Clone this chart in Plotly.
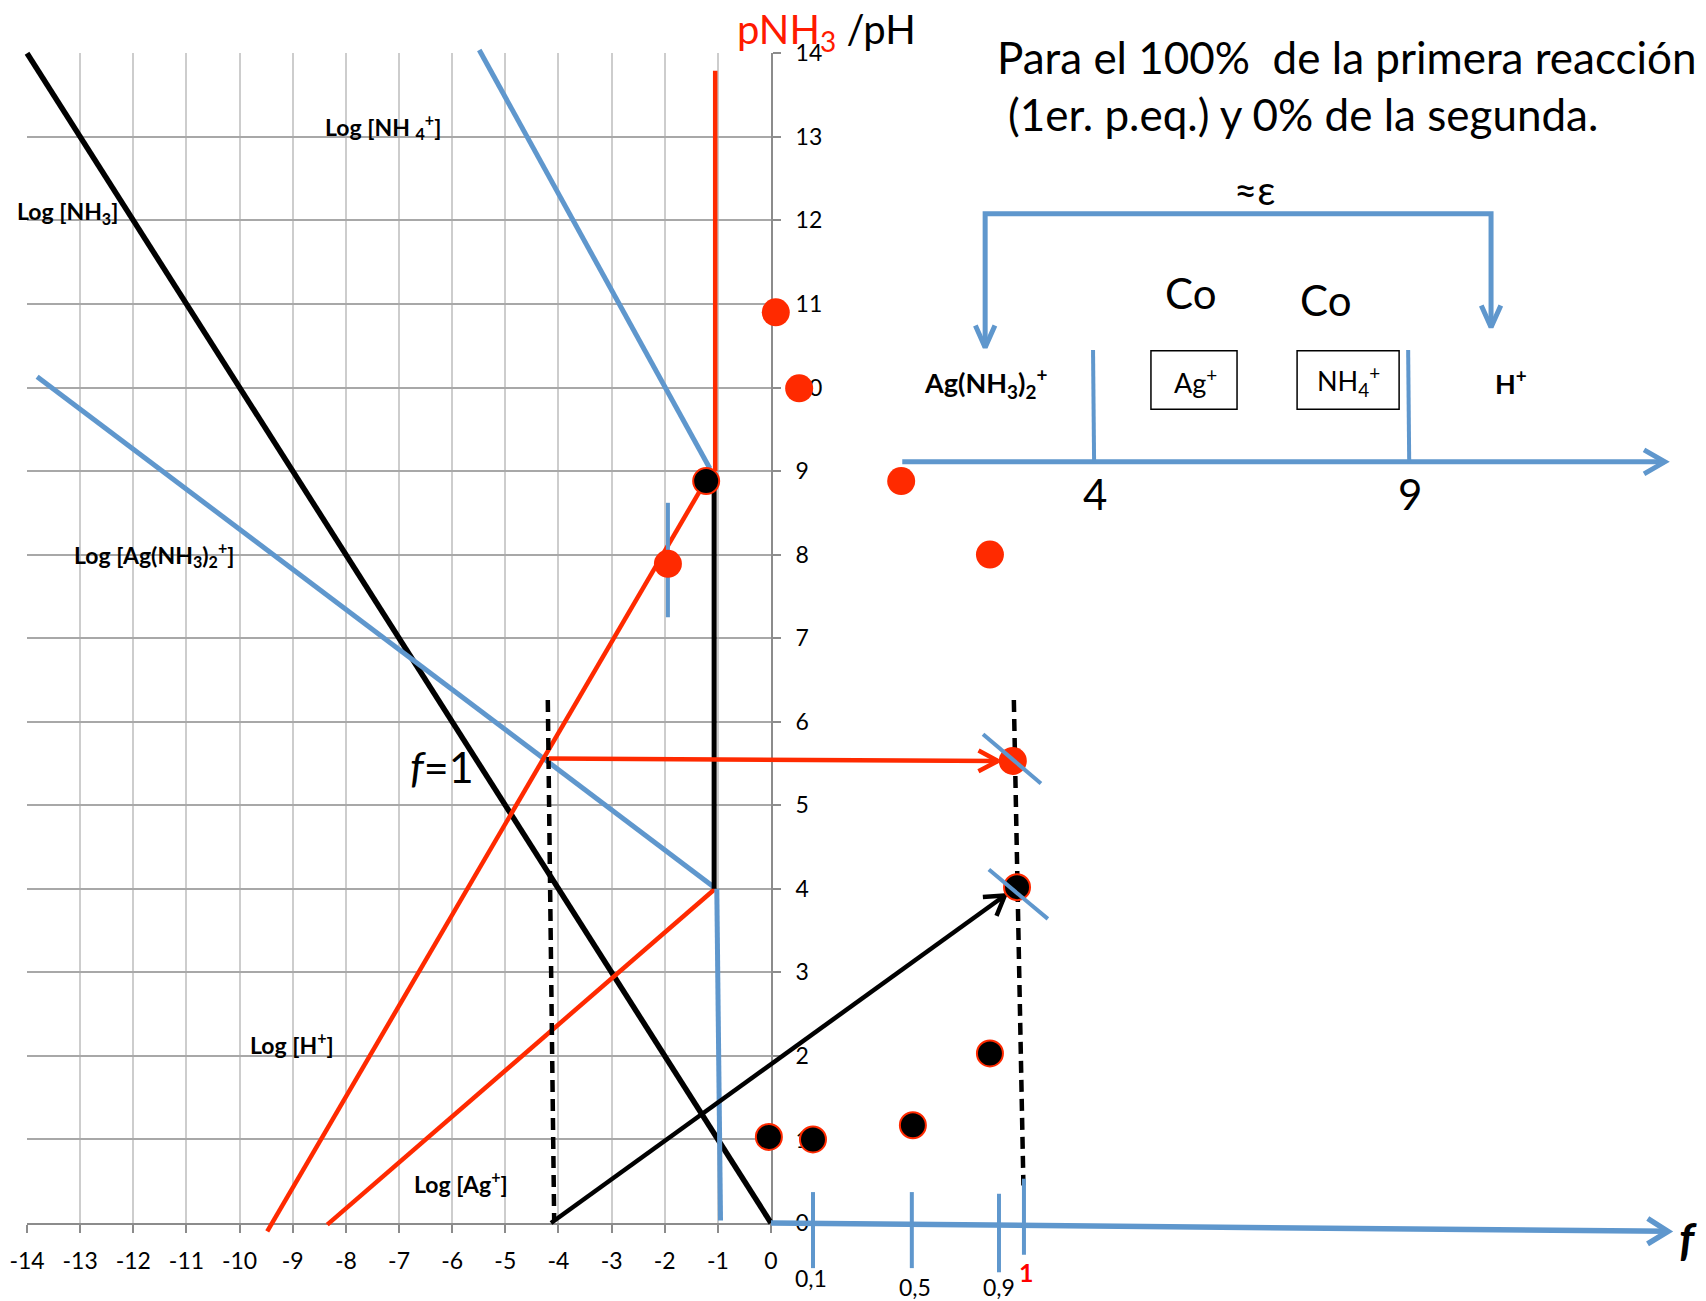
import math
import plotly.graph_objects as go

# ---------------- data ----------------
x_tick_vals = list(range(-14, 1))
x_tick_text = ['-14', '-13', '-12', '-11', '-10', '-9', '-8', '-7', '-6', '-5', '-4', '-3', '-2', '-1', '0']
y_tick_vals = list(range(0, 15))
y_tick_text = [str(v) for v in range(0, 15)]

# log-diagram lines (x: pNH3 scale, y: pH)
log_nh3_x = [-14.0, 0.0]
log_nh3_y = [14.0, 0.0]
log_nh4_x = [-5.49, -1.15]
log_nh4_y = [14.04, 9.03]
log_agnh3_x = [-13.81, -1.07]
log_agnh3_y = [10.13, 4.02]
log_h_x = [-9.48, -1.12]
log_h_y = [-0.10, 9.00]
pnh3_vert_x = [-1.05, -1.05]
pnh3_vert_y = [9.00, 13.79]
log_ag_x = [-8.35, -1.05]
log_ag_y = [-0.02, 4.00]
blue_vert_x = [-1.02, -0.95]
blue_vert_y = [4.00, 0.03]
black_vert_x = [-1.07, -1.07]
black_vert_y = [8.88, 4.00]
blue_mark_x = [-1.94, -1.94]
blue_mark_y = [8.62, 7.25]

dash1_x = [-4.20, -4.08]
dash1_y = [6.26, 0.02]
dash2_x = [4.57, 4.75]
dash2_y = [6.26, 0.45]

red_arrow_x = [-4.18, 4.27]
red_arrow_y = [5.56, 5.53]
black_arrow_x = [-4.14, 4.40]
black_arrow_y = [0.00, 3.92]

slash1_x = [3.99, 5.08]
slash1_y = [5.85, 5.26]
slash2_x = [4.10, 5.21]
slash2_y = [4.23, 3.64]

pnh3_dots_x = [-1.94, 0.09, 0.53, 2.45, 4.12, 4.55]
pnh3_dots_y = [7.89, 10.90, 9.99, 8.88, 8.00, 5.53]
ph_dots_x = [-1.22, -0.04, 0.79, 2.67, 4.12, 4.63]
ph_dots_y = [8.88, 1.03, 1.00, 1.17, 2.03, 4.02]

# f axis
f_axis_x = [0.0, 16.88]
f_axis_y = [0.0, -0.10]
f_tick_x = [0.79, 2.65, 4.29, 4.76]
f_tick_top = [0.37, 0.37, 0.35, 0.53]
f_tick_bot = [-0.54, -0.54, -0.59, -0.38]
f_labels = ['0,1', '0,5', '0,9']
f_label_x = [0.75, 2.71, 4.29]
f_label_y = [-0.66, -0.76, -0.76]

# predominance scale
pred_axis_x = [2.47, 16.82]
pred_axis_y = [9.11, 9.11]
pred_bound_x = [6.06, 11.99]
pred_bound_top = 10.45
pred_bound_labels = ['4', '9']
bracket_x = [4.03, 4.03, 13.55, 13.55]
bracket_y = [10.48, 12.08, 12.08, 10.72]

# ---------------- geometry of the picture ----------------
W, H = 1706, 1301
X0, XS = 771.0, 53.14   # pixel of x=0 and pixels per unit
Y0, YS = 1223.0, 83.55  # pixel of y=0 and pixels per unit

BLUE = '#5f97cd'
RED = '#ff2a00'
FONT = 'Lato'


def head(xs, ys, length=22, ang=30):
    x0, y0, x1, y1 = xs[-2], ys[-2], xs[-1], ys[-1]
    dxp = (x1 - x0) * XS
    dyp = -(y1 - y0) * YS
    L = math.hypot(dxp, dyp)
    bx, by = -dxp / L, -dyp / L
    hx, hy = [], []
    for s in (1, -1):
        a = math.radians(ang * s)
        rx = bx * math.cos(a) - by * math.sin(a)
        ry = bx * math.sin(a) + by * math.cos(a)
        hx.append(x1 + rx * length / XS)
        hy.append(y1 - ry * length / YS)
    return [hx[0], x1, hx[1]], [hy[0], y1, hy[1]]


fig = go.Figure()

# invisible anchor trace so that the gridded main subplot is drawn
fig.add_trace(go.Scatter(x=[x_tick_vals[0]], y=[y_tick_vals[0]], mode='markers', xaxis='x', yaxis='y',
                         marker=dict(opacity=0), hoverinfo='skip', showlegend=False))


def line(xs, ys, color, width, dash=None):
    fig.add_trace(go.Scatter(x=xs, y=ys, mode='lines', xaxis='x2', yaxis='y2',
                             line=dict(color=color, width=width, dash=dash),
                             hoverinfo='skip', showlegend=False))


# log diagram lines
line(log_nh3_x, log_nh3_y, 'black', 5.5)
line(log_nh4_x, log_nh4_y, BLUE, 5)
line(log_agnh3_x, log_agnh3_y, BLUE, 5)
line(log_h_x, log_h_y, RED, 4.5)
line(pnh3_vert_x, pnh3_vert_y, RED, 4.5)
line(log_ag_x, log_ag_y, RED, 4.5)
line(blue_vert_x, blue_vert_y, BLUE, 5)
line(black_vert_x, black_vert_y, 'black', 5)
line(blue_mark_x, blue_mark_y, BLUE, 4)
line(dash1_x, dash1_y, 'black', 4.5, '12px,7px')
line(dash2_x, dash2_y, 'black', 4.5, '12px,7px')

# arrows
line(red_arrow_x, red_arrow_y, RED, 4.5)
hx, hy = head(red_arrow_x, red_arrow_y, 22, 28)
line(hx, hy, RED, 4.5)
line(black_arrow_x, black_arrow_y, 'black', 4.5)
hx, hy = head(black_arrow_x, black_arrow_y, 22, 32)
line(hx, hy, 'black', 4.5)

# f axis
line(f_axis_x, f_axis_y, BLUE, 5.5)
hx, hy = head(f_axis_x, f_axis_y, 24, 32)
line(hx, hy, BLUE, 5.5)
for i in range(len(f_tick_x)):
    line([f_tick_x[i], f_tick_x[i]], [f_tick_top[i], f_tick_bot[i]], BLUE, 4)

# dots
fig.add_trace(go.Scatter(x=pnh3_dots_x, y=pnh3_dots_y, mode='markers', xaxis='x2', yaxis='y2',
                         marker=dict(size=28, color=RED, line=dict(width=0)),
                         hoverinfo='skip', showlegend=False))
fig.add_trace(go.Scatter(x=ph_dots_x, y=ph_dots_y, mode='markers', xaxis='x2', yaxis='y2',
                         marker=dict(size=26, color='black', line=dict(width=2, color=RED)),
                         hoverinfo='skip', showlegend=False))
line(slash1_x, slash1_y, BLUE, 4)
line(slash2_x, slash2_y, BLUE, 4)

# predominance scale
line(pred_axis_x, pred_axis_y, BLUE, 5)
hx, hy = head(pred_axis_x, pred_axis_y, 24, 30)
line(hx, hy, BLUE, 5)
for bx in pred_bound_x:
    line([bx, bx + 0.02], [pred_bound_top, pred_axis_y[0]], BLUE, 4)
line(bracket_x, bracket_y, BLUE, 5)
hx, hy = head(bracket_x[:2][::-1], bracket_y[:2][::-1], 24, 24)
line(hx, hy, BLUE, 5)
hx, hy = head(bracket_x[2:], bracket_y[2:], 24, 24)
line(hx, hy, BLUE, 5)

annotations = []


def text(x, y, s, size, color='black', bold=False, anchor='left', family=FONT, italic=False):
    if bold:
        s = '<b>' + s + '</b>'
    if italic:
        s = '<i>' + s + '</i>'
    annotations.append(dict(x=x, y=y, xref='x2', yref='y2', text=s, showarrow=False,
                            xanchor=anchor, yanchor='middle',
                            font=dict(family=family, size=size, color=color)))


text(-8.43, 13.12, 'Log [NH <sub>4</sub><sup>+</sup>]', 23, bold=True)
text(-14.23, 12.10, 'Log [NH<sub>3</sub>]', 23, bold=True)
text(-13.15, 8.00, 'Log [Ag(NH<sub>3</sub>)<sub>2</sub><sup>+</sup>]', 23, bold=True)
text(-9.84, 2.15, 'Log [H<sup>+</sup>]', 23, bold=True)
text(-6.76, 0.49, 'Log [Ag<sup>+</sup>]', 23, bold=True)
text(-6.83, 5.46, '<i>f</i>=1', 43)
text(-0.68, 14.26, '<span style="color:#ff1a00">pNH<sub>3</sub></span> /pH', 40)

text(4.22, 13.96, 'Para el 100%&nbsp; de la primera reacción', 44)
text(4.43, 13.27, '(1er. p.eq.) y 0% de la segunda.', 44)
text(9.09, 12.36, '≈ε', 40, anchor='center')
text(7.90, 11.13, 'Co', 42, anchor='center')
text(10.43, 11.05, 'Co', 42, anchor='center')
text(2.84, 10.05, 'Ag(NH<sub>3</sub>)<sub>2</sub><sup>+</sup>', 27, bold=True)
text(7.98, 10.08, 'Ag<sup>+</sup>', 27, anchor='center')
text(10.86, 10.08, 'NH<sub>4</sub><sup>+</sup>', 27, anchor='center')
text(13.93, 10.07, 'H<sup>+</sup>', 27, bold=True, anchor='center')
for bx, lab in zip(pred_bound_x, pred_bound_labels):
    text(bx + 0.04, 8.72, lab, 42, anchor='center')

for fx, fy, lab in zip(f_label_x, f_label_y, f_labels):
    text(fx, fy, lab, 23, anchor='center')
text(4.80, -0.59, '1', 25, color='#ff0000', bold=True, anchor='center')
text(17.26, -0.18, 'f', 46, bold=True, italic=True, anchor='center')

shapes = [
    dict(type='rect', xref='x2', yref='y2', x0=7.15, x1=8.77, y0=9.74, y1=10.44,
         line=dict(color='black', width=1.5)),
    dict(type='rect', xref='x2', yref='y2', x0=9.90, x1=11.82, y0=9.74, y1=10.44,
         line=dict(color='black', width=1.5)),
]

axis_common = dict(showline=True, linecolor='#8c8c8c', linewidth=2, ticks='outside', ticklen=8,
                   tickwidth=2, tickcolor='#8c8c8c', zeroline=False, fixedrange=True,
                   automargin=False, tickfont=dict(family=FONT, size=23, color='black'))

fig.update_layout(
    template='none',
    width=W, height=H, margin=dict(l=0, r=0, t=0, b=0, pad=0),
    paper_bgcolor='white', plot_bgcolor='rgba(0,0,0,0)',
    showlegend=False,
    xaxis=dict(domain=[(X0 - 14 * XS) / W, X0 / W], range=[-14, 0], tickvals=x_tick_vals,
               ticktext=x_tick_text, showgrid=True, gridcolor='#cdcdcd', gridwidth=2,
               ticklabelstandoff=8, anchor='y', **axis_common),
    yaxis=dict(domain=[(H - Y0) / H, (H - Y0 + 14 * YS) / H], range=[0, 14], side='right',
               tickvals=y_tick_vals, ticktext=y_tick_text, showgrid=True, gridcolor='#a8a8a8',
               gridwidth=2, ticklabelstandoff=10, anchor='x', **axis_common),
    xaxis2=dict(domain=[0, 1], range=[-X0 / XS, (W - X0) / XS], visible=False, anchor='y2',
                fixedrange=True, automargin=False),
    yaxis2=dict(domain=[0, 1], range=[(Y0 - H) / YS, Y0 / YS], visible=False, anchor='x2',
                fixedrange=True, automargin=False),
    annotations=annotations,
    shapes=shapes,
)

fig.write_html("out.html", config={'displayModeBar': False},
               post_script="document.body.style.margin='0';document.body.style.overflow='hidden';")
